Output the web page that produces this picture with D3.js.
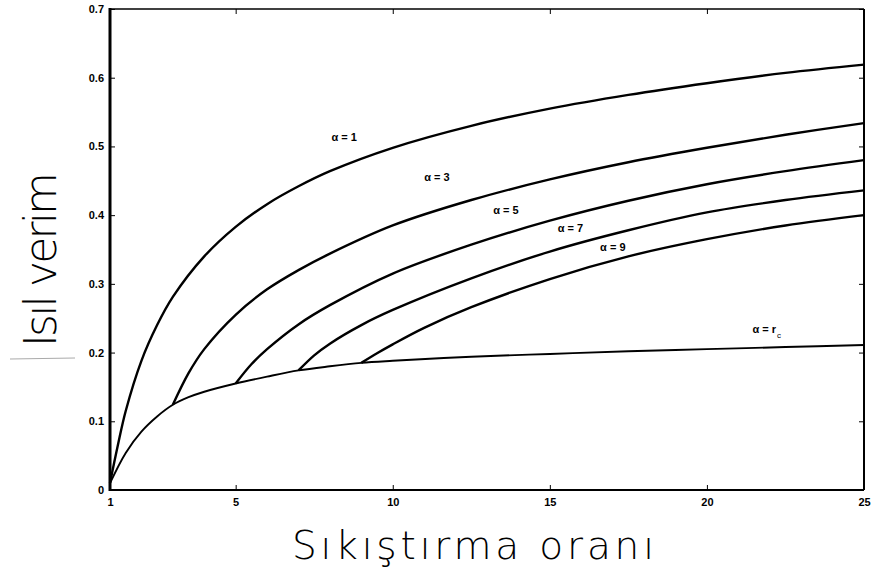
<!DOCTYPE html>
<html>
<head>
<meta charset="utf-8">
<script src="https://cdn.jsdelivr.net/npm/d3@7"></script>
<style>
  body { margin: 0; background: #fff; }
  svg { display: block; }
</style>
</head>
<body>
<div id="chart"></div>
<script>
// values
var rAlpha1   = [1, 1.25, 1.5, 2, 2.5, 3, 4, 5, 6, 7, 8, 10, 12.5, 15, 17.5, 20, 22.5, 25];
var etaAlpha1 = [0.01, 0.065, 0.115, 0.188, 0.24, 0.281, 0.34, 0.383, 0.416, 0.442, 0.464, 0.498, 0.53, 0.555, 0.575, 0.592, 0.607, 0.619];

var rAlpha3   = [3, 3.5, 4, 5, 6, 7, 8, 10, 12.5, 15, 17.5, 20, 22.5, 25];
var etaAlpha3 = [0.124, 0.17, 0.205, 0.255, 0.292, 0.32, 0.344, 0.385, 0.422, 0.452, 0.477, 0.498, 0.517, 0.534];

var rAlpha5   = [5, 5.5, 6, 7, 8, 10, 12.5, 15, 17.5, 20, 22.5, 25];
var etaAlpha5 = [0.155, 0.183, 0.205, 0.241, 0.269, 0.315, 0.357, 0.392, 0.421, 0.445, 0.464, 0.48];

var rAlpha7   = [7, 7.5, 8, 9, 10, 12.5, 15, 17.5, 20, 22.5, 25];
var etaAlpha7 = [0.174, 0.196, 0.213, 0.24, 0.262, 0.308, 0.347, 0.378, 0.404, 0.422, 0.436];

var rAlpha9   = [9, 9.5, 10, 11, 12.5, 15, 17.5, 20, 22.5, 25];
var etaAlpha9 = [0.185, 0.199, 0.212, 0.236, 0.266, 0.307, 0.34, 0.365, 0.385, 0.4];

var rAlphaRc   = [1, 1.5, 2, 2.5, 3, 3.5, 4, 5, 6, 7, 8, 9, 10, 12.5, 15, 17.5, 20, 22.5, 25];
var etaAlphaRc = [0.01, 0.054, 0.085, 0.107, 0.124, 0.135, 0.143, 0.155, 0.165, 0.174, 0.18, 0.185, 0.188, 0.194, 0.198, 0.202, 0.205, 0.208, 0.211];

var xTicks = [1, 5, 10, 15, 20, 25];
var yTicks = [0, 0.1, 0.2, 0.3, 0.4, 0.5, 0.6, 0.7];
var yTickLabels = ["0", "0.1", "0.2", "0.3", "0.4", "0.5", "0.6", "0.7"];

var curveLabels = ["\u03b1 = 1", "\u03b1 = 3", "\u03b1 = 5", "\u03b1 = 7", "\u03b1 = 9", "\u03b1 = r"];
var labelR   = [8.05, 11.0, 13.2, 15.25, 16.6, 21.45];
var labelEta = [0.508, 0.449, 0.402, 0.375, 0.348, 0.228];

var xTitle = "S\u0131k\u0131\u015ft\u0131rma  oran\u0131";
var yTitle = "Is\u0131l verim";

var W = 872, H = 570;
var x = d3.scaleLinear().domain([1, 25]).range([110, 864]);
var y = d3.scaleLinear().domain([0, 0.7]).range([490, 9]);

var svg = d3.select("#chart").append("svg")
  .attr("width", W).attr("height", H);

// curves
var series = [
  [rAlpha1, etaAlpha1, 2.4],
  [rAlpha3, etaAlpha3, 2.4],
  [rAlpha5, etaAlpha5, 2.4],
  [rAlpha7, etaAlpha7, 2.4],
  [rAlpha9, etaAlpha9, 2.4],
  [rAlphaRc, etaAlphaRc, 1.9]
];
var line = d3.line()
  .x(function(d) { return x(d[0]); })
  .y(function(d) { return y(d[1]); })
  .curve(d3.curveCatmullRom.alpha(0.5));

series.forEach(function(s) {
  var pts = s[0].map(function(r, i) { return [r, s[1][i]]; });
  svg.append("path")
    .attr("d", line(pts))
    .attr("fill", "none")
    .attr("stroke", "#000")
    .attr("stroke-width", s[2])
    .attr("stroke-linejoin", "round");
});

// box
svg.append("line").attr("x1", 110).attr("x2", 864).attr("y1", 9).attr("y2", 9)
  .attr("stroke", "#000").attr("stroke-width", 1.6);
svg.append("line").attr("x1", 864).attr("x2", 864).attr("y1", 9).attr("y2", 490)
  .attr("stroke", "#000").attr("stroke-width", 2);
svg.append("line").attr("x1", 110).attr("x2", 864).attr("y1", 490).attr("y2", 490)
  .attr("stroke", "#000").attr("stroke-width", 1.8);
svg.append("line").attr("x1", 110).attr("x2", 110).attr("y1", 8).attr("y2", 491)
  .attr("stroke", "#000").attr("stroke-width", 3);

// axes (inward ticks)
var tickFont = "bold 11px 'Liberation Sans', Arial, sans-serif";
var xAxis = svg.append("g").attr("transform", "translate(0,490)")
  .call(d3.axisBottom(x).tickValues(xTicks).tickSize(-5).tickPadding(8).tickFormat(d3.format("d")));
var xTop = svg.append("g").attr("transform", "translate(0,9)")
  .call(d3.axisTop(x).tickValues(xTicks).tickSize(-5).tickFormat(""));
var yAxis = svg.append("g").attr("transform", "translate(110,0)")
  .call(d3.axisLeft(y).tickValues(yTicks).tickSize(-5).tickPadding(6)
    .tickFormat(function(d, i) { return yTickLabels[i]; }));
var yRight = svg.append("g").attr("transform", "translate(864,0)")
  .call(d3.axisRight(y).tickValues(yTicks).tickSize(-5).tickFormat(""));

[xAxis, xTop, yAxis, yRight].forEach(function(g) {
  g.select(".domain").remove();
  g.selectAll(".tick line").attr("stroke", "#000").attr("stroke-width", 1);
  g.selectAll("text").style("font", tickFont).attr("fill", "#000");
});

// curve labels
var labels = svg.selectAll("text.clabel")
  .data(curveLabels)
  .enter()
  .append("text")
  .attr("class", "clabel")
  .attr("x", function(d, i) { return x(labelR[i]); })
  .attr("y", function(d, i) { return y(labelEta[i]); })
  .style("font", "bold 11px 'Liberation Sans', Arial, sans-serif")
  .text(function(d) { return d; });
// subscript c on the r_c label
labels.filter(function(d, i) { return i === 5; })
  .append("tspan")
  .attr("dx", 1).attr("dy", 5)
  .style("font", "8px 'Liberation Sans', Arial, sans-serif")
  .text("c");

// axis titles
svg.append("text")
  .attr("x", 292).attr("y", 559)
  .attr("textLength", 362)
  .attr("lengthAdjust", "spacing")
  .style("font", "39px 'DejaVu Sans', sans-serif")
  .style("font-weight", "200")
  .text(xTitle);

svg.append("text")
  .attr("transform", "translate(56,347) rotate(-90)")
  .attr("textLength", 175)
  .attr("lengthAdjust", "spacing")
  .style("font", "44px 'DejaVu Sans', sans-serif")
  .style("font-weight", "200")
  .text(yTitle);

// faint scan mark at left
svg.append("line").attr("x1", 10).attr("x2", 75).attr("y1", 359).attr("y2", 358)
  .attr("stroke", "#aaa").attr("stroke-width", 1);
</script>
</body>
</html>
